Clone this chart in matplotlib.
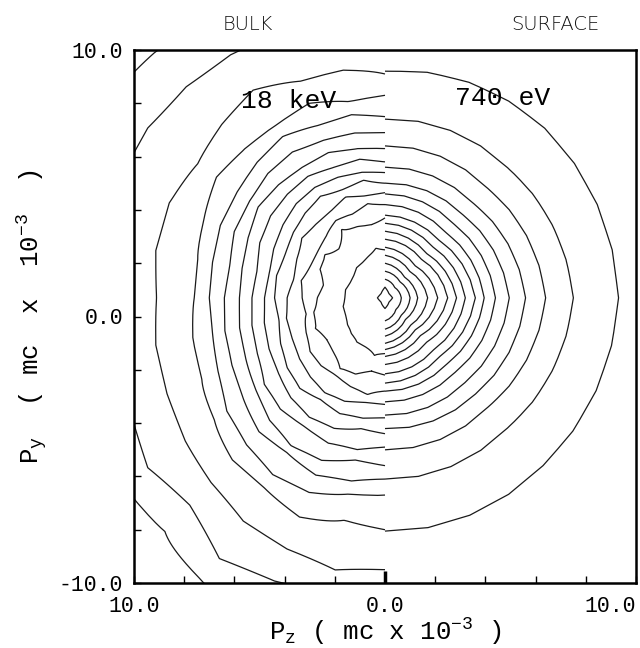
import numpy as np
import matplotlib
matplotlib.use("Agg")
import matplotlib.pyplot as plt

plt.rcParams['mathtext.fontset'] = 'custom'
plt.rcParams['mathtext.rm'] = 'Liberation Mono'
plt.rcParams['mathtext.it'] = 'Liberation Mono'

# contour radii (mc x 10^-3), inner -> outer, read along a few directions
# SURFACE (740 eV), right half, angle measured from +Pz axis
surf_angles = [-90, -45, 0, 45, 90]
surf_down  = [0.40, 0.87, 1.18, 1.44, 1.71, 1.94, 2.20, 2.50, 2.85, 3.20, 3.50, 3.90, 4.40, 4.90, 5.70, 6.80, 8.75]
surf_dlow  = [0.22, 0.62, 0.92, 1.15, 1.45, 1.70, 2.00, 2.35, 2.75, 3.10, 3.50, 3.95, 4.50, 5.10, 5.80, 6.90, 8.90]
surf_right = [0.30, 0.65, 1.00, 1.30, 1.70, 2.10, 2.50, 2.85, 3.20, 3.60, 3.95, 4.40, 4.95, 5.60, 6.40, 7.50, 9.30]
surf_dup   = [0.22, 0.55, 0.85, 1.10, 1.40, 1.70, 2.05, 2.35, 2.70, 3.05, 3.45, 3.90, 4.40, 5.00, 5.80, 6.90, 9.00]
surf_up    = [0.40, 0.70, 1.00, 1.30, 1.60, 1.90, 2.20, 2.50, 2.80, 3.10, 3.50, 3.90, 4.30, 4.90, 5.70, 6.70, 8.50]

# BULK (18 keV), left half
bulk_angles = [90, 101, 112.5, 124, 135, 146, 157.5, 169, 180, 191, 202.5, 214, 225, 236, 247.5, 259, 270]
bulk_a090 = [1.8, 3.0, 3.5, 3.95, 4.3, 4.7, 5.1, 5.6, 6.2, 6.8, 7.6, 8.4, 10.5, 12.5]
bulk_a101 = [1.9, 2.8, 3.6, 3.9, 4.5, 4.8, 5.3, 5.7, 6.3, 7.0, 7.5, 8.7, 10.4, 12.6]
bulk_a112 = [1.7, 2.9, 3.4, 4.1, 4.4, 4.9, 5.3, 5.9, 6.4, 7.0, 7.9, 8.8, 10.8, 12.8]
bulk_a124 = [1.6, 3.1, 3.5, 3.9, 4.6, 5.0, 5.5, 5.9, 6.6, 7.3, 7.8, 9.4, 11.0, 12.7]
bulk_a135 = [1.6, 2.6, 3.3, 3.9, 4.5, 5.0, 5.5, 6.0, 6.6, 7.2, 7.9, 9.2, 11.2, 13.0]
bulk_a146 = [1.5, 2.9, 3.2, 4.0, 4.4, 4.9, 5.5, 6.1, 6.5, 7.1, 8.1, 9.0, 11.4, 13.3]
bulk_a157 = [1.5, 2.8, 3.2, 3.8, 4.3, 4.8, 5.4, 5.9, 6.5, 7.1, 7.8, 9.3, 11.5, 13.5]
bulk_a169 = [1.6, 2.5, 3.4, 3.7, 4.4, 4.7, 5.2, 5.8, 6.3, 7.0, 7.6, 9.3, 11.4, 13.5]
bulk_a180 = [1.6, 2.7, 3.3, 3.9, 4.4, 4.8, 5.3, 5.8, 6.4, 7.0, 7.6, 9.1, 11.3, 13.5]
bulk_a191 = [1.7, 2.9, 3.2, 4.0, 4.3, 4.9, 5.4, 5.9, 6.5, 7.0, 7.8, 9.3, 11.1, 13.3]
bulk_a202 = [1.7, 3.0, 3.4, 4.0, 4.5, 5.0, 5.5, 6.0, 6.6, 7.2, 7.9, 9.4, 11.0, 13.0]
bulk_a214 = [1.8, 2.8, 3.6, 4.1, 4.7, 5.1, 5.8, 6.2, 6.8, 7.6, 8.2, 9.6, 11.4, 12.6]
bulk_a225 = [1.9, 2.9, 3.6, 4.2, 4.8, 5.3, 5.9, 6.5, 7.1, 7.8, 8.6, 9.8, 11.0, 12.4]
bulk_a236 = [2.0, 3.2, 3.5, 4.3, 4.6, 5.4, 5.8, 6.7, 7.0, 8.0, 8.6, 10.1, 11.8, 12.9]
bulk_a247 = [2.0, 3.1, 3.6, 4.2, 4.7, 5.3, 5.9, 6.6, 7.2, 7.9, 8.9, 10.2, 11.5, 13.0]
bulk_a259 = [2.2, 2.8, 3.7, 4.0, 4.6, 5.0, 5.8, 6.2, 7.0, 7.5, 8.5, 10.4, 11.3, 13.0]
bulk_a270 = [2.1, 2.9, 3.5, 4.0, 4.5, 5.1, 5.6, 6.3, 6.8, 7.4, 8.7, 10.2, 11.5, 13.0]

center_y = 0.7
xticks = np.arange(-10, 11, 2)
xlabels = ['10.0', '', '', '', '', '0.0', '', '', '', '', '10.0']
yticks = np.arange(-10, 11, 2)
ylabels = ['-10.0', '', '', '', '', '0.0', '', '', '', '', '10.0']


def polar_field(angles, table, th):
    tab = np.array(table)
    n = tab.shape[1]
    r = np.linspace(0, 16, 401)
    R, T = np.meshgrid(r, np.radians(th))
    V = np.zeros_like(R)
    for i, t in enumerate(th):
        rk = np.array([np.interp(t, angles, tab[:, k]) for k in range(n)])
        V[i] = np.interp(r, np.r_[0, rk, rk[-1] + 3], np.r_[0, np.arange(1, n + 1), n + 1])
    return R * np.cos(T), R * np.sin(T) + center_y, V, n


fig = plt.figure(figsize=(6.4, 6.48), dpi=100)
ax = fig.add_axes([134 / 640, 1 - 583 / 648, 502 / 640, 533 / 648])
lc = '#1a1a1a'

surf_tab = [surf_down, surf_dlow, surf_right, surf_dup, surf_up]
X, Y, V, n = polar_field(surf_angles, surf_tab, np.linspace(-90, 90, 17))
ax.contour(X, Y, V, levels=np.arange(2, n + 1), colors=lc, linewidths=0.9)

# innermost surface contour closes across the centre line
full_angles = [-180, -135] + surf_angles + [135, 180]
full_tab = [surf_right, surf_dlow] + surf_tab + [surf_dup, surf_right]
X, Y, V, n = polar_field(full_angles, full_tab, np.linspace(-180, 180, 9))
ax.contour(X, Y, V, levels=[1], colors=lc, linewidths=0.9)

bulk_tab = [bulk_a090, bulk_a101, bulk_a112, bulk_a124, bulk_a135, bulk_a146,
            bulk_a157, bulk_a169, bulk_a180, bulk_a191, bulk_a202, bulk_a214,
            bulk_a225, bulk_a236, bulk_a247, bulk_a259, bulk_a270]
X, Y, V, n = polar_field(bulk_angles, bulk_tab, bulk_angles)
ax.contour(X, Y, V, levels=np.arange(1, n + 1), colors=lc, linewidths=0.9)

ax.set_xlim(-10, 10)
ax.set_ylim(-10, 10)
ax.set_xticks(xticks)
ax.set_xticklabels(xlabels)
ax.set_yticks(yticks)
ax.set_yticklabels(ylabels)
ax.tick_params(direction='in', length=5, width=1, labelsize=15.5)
ax.tick_params(axis='x', pad=9)
ax.tick_params(axis='y', pad=8)
for lab in ax.get_xticklabels() + ax.get_yticklabels():
    lab.set_family('Liberation Mono')
ax.get_xticklabels()[-1].set_horizontalalignment('right')
t0 = ax.xaxis.get_major_ticks()[5]
t0.tick1line.set_markersize(9)
t0.tick1line.set_markeredgewidth(2.5)
for s in ax.spines.values():
    s.set_linewidth(1.8)

ax.text(-3.85, 8.1, '18 keV', fontsize=19, family='Liberation Mono', ha='center', va='center')
ax.text(4.7, 8.2, '740 eV', fontsize=19, family='Liberation Mono', ha='center', va='center')

ax.set_xlabel(r'$\mathrm{P_z}$ ( mc x 10$^{-3}$ )', fontsize=18.5, family='Liberation Mono', labelpad=0)
ax.set_ylabel(r'$\mathrm{P_y}$  ( mc  x  10$^{-3}$  )', fontsize=18.5, family='Liberation Mono', labelpad=6)

fig.text(248 / 640, 1 - 25 / 648, 'BULK', fontsize=14, family='DejaVu Sans', weight='light',
         ha='center', va='center', color='#111111')
fig.text(555 / 640, 1 - 25 / 648, 'SURFACE', fontsize=14, family='DejaVu Sans', weight='light',
         ha='center', va='center', color='#111111')

fig.savefig('out.png', dpi=100)
